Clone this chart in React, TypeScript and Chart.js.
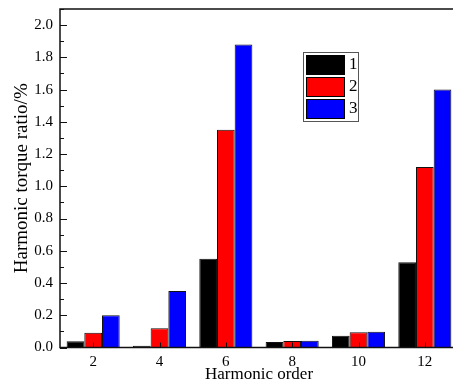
import React, { useEffect, useRef } from "react";
import { Chart, registerables } from "chart.js";

Chart.register(...registerables);

const categories = ["2", "4", "6", "8", "10", "12"];
const series1 = [0.038, 0.011, 0.55, 0.034, 0.073, 0.529];
const series2 = [0.092, 0.119, 1.351, 0.04, 0.094, 1.12];
const series3 = [0.2, 0.35, 1.879, 0.042, 0.098, 1.6];
const seriesNames = ["1", "2", "3"];
const seriesColors = ["#000000", "#ff0000", "#0000ff"];

const FONT = "'Liberation Serif', 'Times New Roman', serif";

const framePlugin = {
  id: "frameTicks",
  afterDraw(chart: any) {
    const ctx = chart.ctx;
    const { left, top, right, bottom } = chart.chartArea;
    const ys = chart.scales.y;
    const xs = chart.scales.x;
    ctx.save();
    ctx.strokeStyle = "#111";
    ctx.lineWidth = 1.5;
    ctx.strokeRect(left, top, right - left, bottom - top);
    ctx.lineWidth = 1;
    ys.ticks.forEach((t: any) => {
      const v = t.value;
      const y = Math.round(ys.getPixelForValue(v)) + 0.5;
      const major = Math.round(v * 10) % 2 === 0;
      const len = major ? 7 : 4;
      ctx.beginPath();
      ctx.moveTo(left, y);
      ctx.lineTo(left + len, y);
      ctx.stroke();
    });
    categories.forEach((_, i) => {
      const x = Math.round(xs.getPixelForValue(i)) + 0.5;
      ctx.beginPath();
      ctx.moveTo(x, bottom);
      ctx.lineTo(x, bottom - 5);
      ctx.stroke();
    });
    const lx = 303, ly = 52, lw = 55, lh = 69;
    ctx.fillStyle = "#fff";
    ctx.fillRect(lx, ly, lw, lh);
    ctx.strokeStyle = "#555";
    ctx.lineWidth = 1;
    ctx.strokeRect(lx + 0.5, ly + 0.5, lw, lh);
    ctx.font = `17px ${FONT}`;
    ctx.textBaseline = "middle";
    ctx.textAlign = "left";
    seriesNames.forEach((name, i) => {
      const sy = ly + 3 + i * 22;
      ctx.fillStyle = seriesColors[i];
      ctx.fillRect(lx + 3, sy, 38, 19);
      ctx.strokeStyle = "#000";
      ctx.strokeRect(lx + 3.5, sy + 0.5, 38, 19);
      ctx.fillStyle = "#000";
      ctx.fillText(name, lx + 46, sy + 10);
    });
    ctx.restore();
  },
};

export default function App() {
  const ref = useRef<HTMLCanvasElement>(null);
  useEffect(() => {
    if (!ref.current) return;
    const data = [series1, series2, series3];
    const chart = new Chart(ref.current, {
      type: "bar",
      data: {
        labels: categories,
        datasets: data.map((d, i) => ({
          label: seriesNames[i],
          data: d,
          backgroundColor: seriesColors[i],
          borderColor: "#111",
          borderWidth: 1,
          categoryPercentage: 0.8,
          barPercentage: 1,
        })),
      },
      options: {
        animation: false,
        responsive: false,
        maintainAspectRatio: false,
        layout: { padding: { top: 9, right: 12, left: 0, bottom: 0 } },
        plugins: { legend: { display: false }, tooltip: { enabled: false } },
        scales: {
          x: {
            grid: { display: false, drawTicks: false },
            border: { display: false },
            ticks: { color: "#000", font: { family: FONT, size: 15 }, padding: 6 },
            title: {
              display: true,
              text: "Harmonic order",
              color: "#000",
              font: { family: FONT, size: 17 },
              padding: { top: 0, bottom: 1 },
            },
            afterFit: (s: any) => {
              s.height = 38.5;
              s.paddingLeft = 0;
              s.paddingRight = 0;
            },
          },
          y: {
            min: 0,
            max: 2.1,
            grid: { display: false, drawTicks: false },
            border: { display: false },
            ticks: {
              stepSize: 0.1,
              autoSkip: false,
              color: "#000",
              font: { family: FONT, size: 15 },
              padding: 7,
              callback: (v: any) => {
                const n = Math.round(Number(v) * 10);
                return n % 2 === 0 ? (n / 10).toFixed(1) : "";
              },
            },
            title: {
              display: true,
              text: "Harmonic torque ratio/%",
              color: "#000",
              font: { family: FONT, size: 19 },
              padding: { top: 11, bottom: 0 },
            },
            afterFit: (s: any) => {
              s.width = 60;
              s.paddingTop = 0;
              s.paddingBottom = 0;
            },
          },
        },
      },
      plugins: [framePlugin],
    });
    return () => chart.destroy();
  }, []);
  return (
    <div style={{ position: "fixed", left: 0, top: 0, width: 470, height: 386, overflow: "hidden", background: "#fff" }}>
      <canvas ref={ref} width={470} height={386} style={{ display: "block" }} />
    </div>
  );
}
